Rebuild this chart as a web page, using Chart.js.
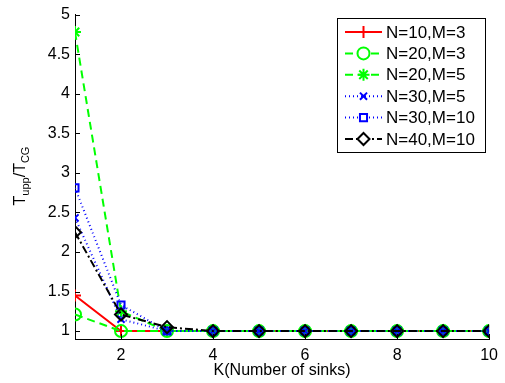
<!DOCTYPE html>
<html>
<head>
<meta charset="utf-8">
<script src="https://cdn.jsdelivr.net/npm/chart.js@4.4.1/dist/chart.umd.min.js"></script>
<style>
  html, body { margin: 0; padding: 0; background: #fff; }
  #wrap { width: 505px; height: 383px; }
</style>
</head>
<body>
<div id="wrap"><canvas id="myChart" width="505" height="383"></canvas></div>
<script>
const kValues = [1, 2, 3, 4, 5, 6, 7, 8, 9, 10];
const xTicks = [2, 4, 6, 8, 10];
const yTicks = [1, 1.5, 2, 2.5, 3, 3.5, 4, 4.5, 5];

const seriesLabels = ['N=10,M=3', 'N=20,M=3', 'N=20,M=5', 'N=30,M=5', 'N=30,M=10', 'N=40,M=10'];
const n10m3 = [1.45, 1, 1, 1, 1, 1, 1, 1, 1, 1];
const n20m3 = [1.21, 1, 1, 1, 1, 1, 1, 1, 1, 1];
const n20m5 = [4.78, 1.25, 1, 1, 1, 1, 1, 1, 1, 1];
const n30m5 = [2.43, 1.15, 1, 1, 1, 1, 1, 1, 1, 1];
const n30m10 = [2.81, 1.33, 1, 1, 1, 1, 1, 1, 1, 1];
const n40m10 = [2.25, 1.21, 1.05, 1, 1, 1, 1, 1, 1, 1];

const FONT = '"Liberation Sans", Arial, Helvetica, sans-serif';

function series(values, color, dash, style, radius) {
    return {
        data: kValues.map((k, i) => ({ x: k, y: values[i] })),
        borderColor: color,
        borderWidth: 2,
        borderDash: dash,
        pointStyle: style,
        pointRadius: radius,
        pointBorderColor: color,
        pointBackgroundColor: 'rgba(0,0,0,0)',
        pointBorderWidth: 2,
        tension: 0,
        fill: false
    };
}

const datasets = [
    series(n10m3, '#ff0000', [], 'cross', 6),
    series(n20m3, '#00ff00', [8, 5], 'circle', 6),
    series(n20m5, '#00ff00', [8, 5], 'star', 6),
    series(n30m5, '#0000ff', [1, 3], 'crossRot', 5),
    series(n30m10, '#0000ff', [1, 3], 'rect', 5),
    series(n40m10, '#000000', [8, 3, 2, 3], 'rectRot', 6)
];
datasets.forEach((d, i) => { d.label = seriesLabels[i]; d.order = datasets.length - i; });

// MATLAB style decorations: inward ticks, legend box, subscripted y title
const decorations = {
    id: 'decorations',
    afterDraw(chart) {
        const ctx = chart.ctx;
        const xs = chart.scales.x, ys = chart.scales.y;
        const area = chart.chartArea;
        ctx.save();
        ctx.strokeStyle = '#000';
        ctx.lineWidth = 1;
        ctx.beginPath();
        xTicks.forEach(v => {
            const px = Math.round(xs.getPixelForValue(v)) + 0.5;
            ctx.moveTo(px, area.bottom);
            ctx.lineTo(px, area.bottom - 5);
        });
        yTicks.forEach(v => {
            const py = Math.round(ys.getPixelForValue(v)) + 0.5;
            ctx.moveTo(area.left, py);
            ctx.lineTo(area.left + 5, py);
        });
        ctx.stroke();

        // legend
        const bx = 337, by = 18, bw = 148, bh = 134;
        ctx.fillStyle = '#fff';
        ctx.fillRect(bx, by, bw, bh);
        ctx.strokeStyle = '#000';
        ctx.lineWidth = 1;
        ctx.strokeRect(bx + 0.5, by + 0.5, bw, bh);
        chart.data.datasets.forEach((d, i) => {
            const cy = by + 14 + i * 21.4;
            ctx.save();
            ctx.strokeStyle = d.borderColor;
            ctx.lineWidth = d.borderWidth;
            ctx.setLineDash(d.borderDash);
            ctx.beginPath();
            ctx.moveTo(345, cy);
            ctx.lineTo(382, cy);
            ctx.stroke();
            ctx.setLineDash([]);
            ctx.strokeStyle = d.pointBorderColor;
            ctx.fillStyle = '#fff';
            ctx.lineWidth = d.pointBorderWidth;
            Chart.helpers.drawPoint(ctx, {
                pointStyle: d.pointStyle,
                radius: d.pointRadius,
                borderWidth: d.pointBorderWidth,
                rotation: 0
            }, 363.5, cy);
            ctx.restore();
            ctx.fillStyle = '#000';
            ctx.font = '17px ' + FONT;
            ctx.textBaseline = 'middle';
            ctx.textAlign = 'left';
            ctx.fillText(d.label, 386, cy + 1);
        });

        // y axis title T_upp / T_CG
        ctx.save();
        ctx.translate(23, 176);
        ctx.rotate(-Math.PI / 2);
        ctx.fillStyle = '#000';
        ctx.textBaseline = 'alphabetic';
        const big = '16px ' + FONT, small = '11px ' + FONT;
        const parts = [['T', big, 0], ['upp', small, 4], ['/T', big, 0], ['CG', small, 4]];
        let total = 0;
        parts.forEach(p => { ctx.font = p[1]; total += ctx.measureText(p[0]).width; });
        let x = -total / 2;
        parts.forEach(p => {
            ctx.font = p[1];
            ctx.fillText(p[0], x, 2 + p[2]);
            x += ctx.measureText(p[0]).width;
        });
        ctx.restore();
        ctx.restore();
    }
};

new Chart(document.getElementById('myChart'), {
    type: 'line',
    data: { datasets: datasets },
    options: {
        responsive: false,
        animation: false,
        layout: { padding: { left: 0, right: 15, top: 12, bottom: 0 } },
        plugins: { legend: { display: false }, tooltip: { enabled: false } },
        scales: {
            x: {
                type: 'linear',
                min: 1,
                max: 10,
                afterBuildTicks: s => { s.ticks = xTicks.map(v => ({ value: v })); },
                afterFit: s => { s.height = 44; },
                grid: { display: false, drawTicks: false },
                border: { display: true, color: '#000', width: 1 },
                ticks: { color: '#000', font: { family: FONT, size: 16 }, padding: 7, maxRotation: 0, callback: v => String(v) },
                title: { display: true, text: 'K(Number of sinks)', color: '#000', font: { family: FONT, size: 16 }, padding: { top: 0, bottom: 3 } }
            },
            y: {
                min: 0.9,
                max: 5,
                afterBuildTicks: s => { s.ticks = yTicks.map(v => ({ value: v })); },
                afterFit: s => { s.width = 75; },
                grid: { display: false, drawTicks: false },
                border: { display: true, color: '#000', width: 1 },
                ticks: { color: '#000', font: { family: FONT, size: 16 }, padding: 5, callback: v => String(v) }
            }
        }
    },
    plugins: [decorations]
});
</script>
</body>
</html>
